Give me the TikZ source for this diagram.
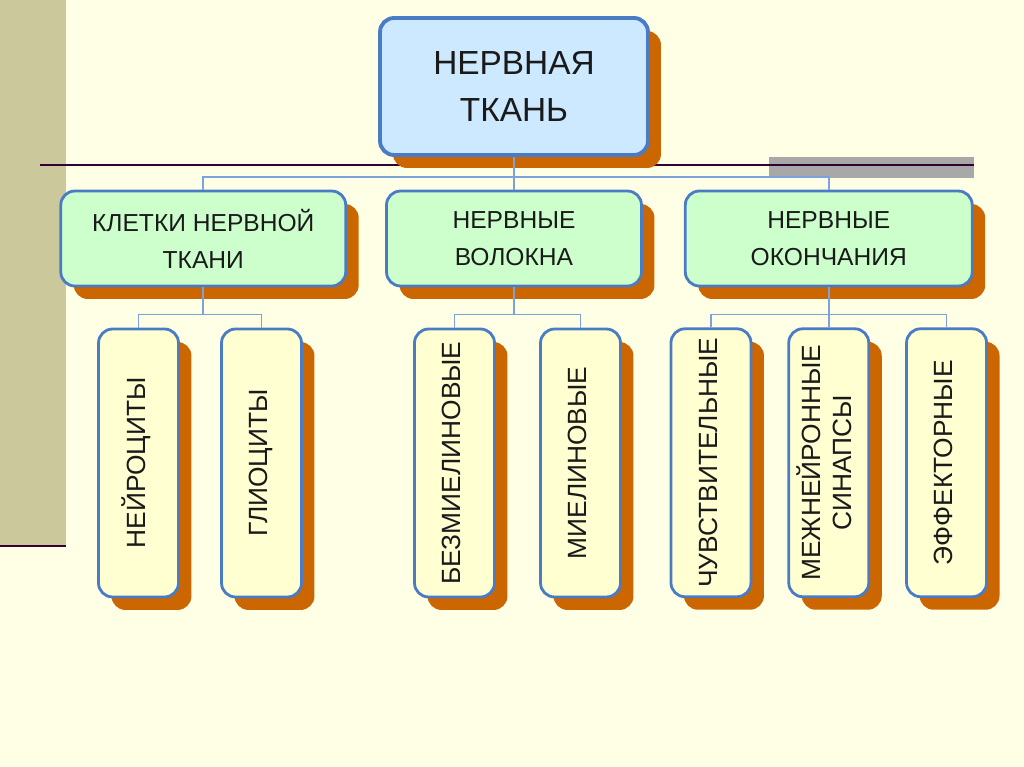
\documentclass[tikz,border=0pt]{standalone}
\usepackage{fontspec}
\setmainfont{Liberation Sans}
\usepackage{graphicx}
\usetikzlibrary{positioning}
\usetikzlibrary{shadows}

\definecolor{paper}{HTML}{FFFFE5}
\definecolor{khaki}{HTML}{CBC99B}
\definecolor{rulecol}{HTML}{330033}
\definecolor{greybar}{HTML}{A8A8A8}
\definecolor{edgeblue}{HTML}{4A7CC6}
\definecolor{rootblue}{HTML}{CCE9FF}
\definecolor{branchgreen}{HTML}{CCFFCC}
\definecolor{leafcream}{HTML}{FFFFD2}
\definecolor{shadoworange}{HTML}{CC6600}
\definecolor{linkblue}{HTML}{7AA3DB}
\definecolor{ink}{HTML}{1A1A1A}

\newcommand{\sidetext}[1]{\rotatebox{90}{\begin{tabular}{@{}c@{}}#1\end{tabular}}}

\begin{document}
\begin{tikzpicture}[
  x=0.02cm, y=-0.02cm,
  box/.style={rectangle, draw=edgeblue, line width=1.6pt, rounded corners=0.28cm, align=center, text=ink,
    drop shadow={shadow xshift=0.26cm, shadow yshift=-0.26cm, fill=shadoworange, opacity=1}},
  root/.style={box, line width=2.2pt, fill=rootblue, minimum width=5.36cm, minimum height=2.74cm, font=\fontsize{19}{27}\selectfont},
  branch/.style={box, fill=branchgreen, minimum height=1.9cm, font=\fontsize{14}{21}\selectfont},
  leaf/.style={box, fill=leafcream, minimum width=1.6cm, minimum height=5.36cm, inner sep=0pt, font=\fontsize{15}{18}\selectfont},
  conn/.style={draw=linkblue, line width=1pt}
]
  % background
  \fill[paper] (0,0) rectangle (1024,767);
  \useasboundingbox (0,0) rectangle (1024,767);
  \fill[khaki] (0,0) rectangle (66,547);
  \draw[rulecol, line width=1.7pt] (0,546) -- (66,546);
  \fill[greybar] (769,157) rectangle (974,178);
  \draw[rulecol, line width=1.3pt] (40,165) -- (974,165);

  \node[root] (tissue) at (514,86.5) {НЕРВНАЯ\\ТКАНЬ};
  \node[branch, minimum width=5.1cm] (fibres) at (514,238.5) {НЕРВНЫЕ\\ВОЛОКНА};
  \node[branch, minimum width=5.7cm, left=0.76cm of fibres] (cells) {КЛЕТКИ НЕРВНОЙ\\ТКАНИ};
  \node[branch, minimum width=5.74cm, right=0.82cm of fibres] (endings) {НЕРВНЫЕ\\ОКОНЧАНИЯ};

  \node[leaf] (neuro) at (138.5,463) {\sidetext{НЕЙРОЦИТЫ}};
  \node[leaf] (glio) at (261.5,463) {\sidetext{ГЛИОЦИТЫ}};
  \node[leaf] (unmyel) at (454.5,463) {\sidetext{БЕЗМИЕЛИНОВЫЕ}};
  \node[leaf] (myel) at (580.5,463) {\sidetext{МИЕЛИНОВЫЕ}};
  \node[leaf, below=0.8cm of endings] (synap) {\sidetext{МЕЖНЕЙРОННЫЕ\\СИНАПСЫ}};
  \node[leaf, left=0.7cm of synap] (sens) {\sidetext{ЧУВСТВИТЕЛЬНЫЕ}};
  \node[leaf, right=0.7cm of synap] (effect) {\sidetext{ЭФФЕКТОРНЫЕ}};

  \draw[conn] (tissue.south) -- (fibres.north);
  \draw[conn] (tissue.south) -- ++(0,20) -| (cells.north);
  \draw[conn] (tissue.south) -- ++(0,20) -| (endings.north);

  \draw[conn] (cells.south) -- ++(0,27) -| (neuro.north);
  \draw[conn] (cells.south) -- ++(0,27) -| (glio.north);
  \draw[conn] (fibres.south) -- ++(0,27) -| (unmyel.north);
  \draw[conn] (fibres.south) -- ++(0,27) -| (myel.north);
  \draw[conn] (endings.south) -- ++(0,27) -| (sens.north);
  \draw[conn] (endings.south) -- (synap.north);
  \draw[conn] (endings.south) -- ++(0,27) -| (effect.north);
\end{tikzpicture}
\end{document}
